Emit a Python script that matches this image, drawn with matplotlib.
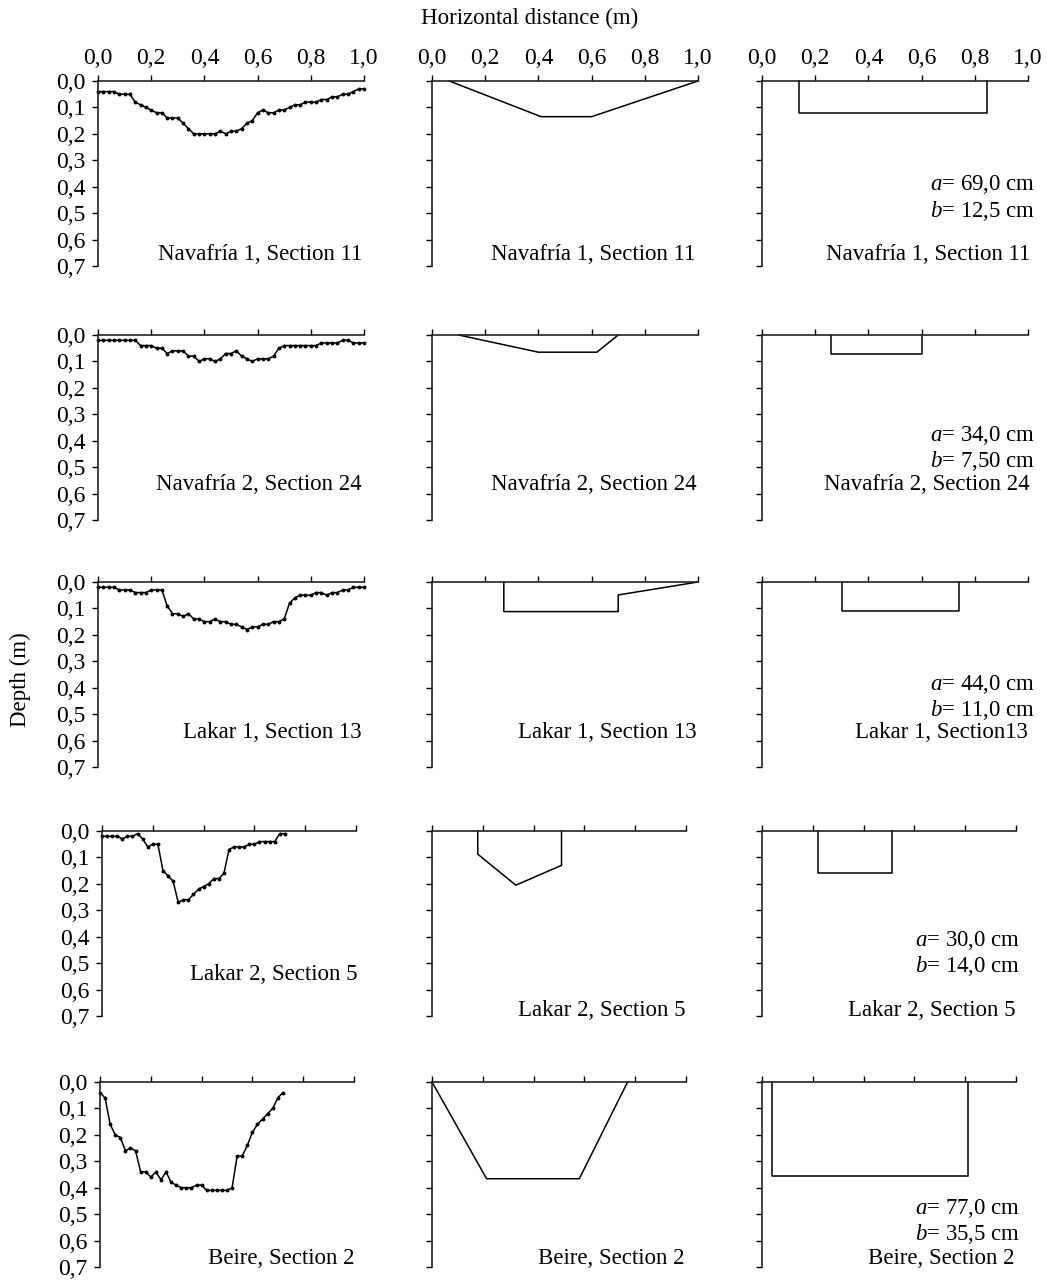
import matplotlib
matplotlib.use("Agg")
import matplotlib.pyplot as plt
import numpy as np

plt.rcParams['font.family'] = ['Liberation Serif', 'DejaVu Serif']
plt.rcParams['mathtext.fontset'] = 'custom'
plt.rcParams['mathtext.rm'] = 'Liberation Serif'
plt.rcParams['mathtext.it'] = 'Liberation Serif:italic'

# ---------------- data ----------------
sites = ["Navafría 1, Section 11", "Navafría 2, Section 24", "Lakar 1, Section 13",
         "Lakar 2, Section 5", "Beire, Section 2"]
site_labels_col3 = ["Navafría 1, Section 11", "Navafría 2, Section 24", "Lakar 1, Section13",
                    "Lakar 2, Section 5", "Beire, Section 2"]

# measured profiles (x every 0.02 m)
nav1_x = [round(0.02 * i, 2) for i in range(51)]
nav1_d = [0.04, 0.04, 0.04, 0.04, 0.05, 0.05, 0.05, 0.08, 0.09, 0.10, 0.11, 0.12, 0.12,
          0.14, 0.14, 0.14, 0.16, 0.18, 0.20, 0.20, 0.20, 0.20, 0.20, 0.19, 0.20, 0.19,
          0.19, 0.18, 0.16, 0.15, 0.12, 0.11, 0.12, 0.12, 0.11, 0.11, 0.10, 0.09, 0.09,
          0.08, 0.08, 0.08, 0.07, 0.07, 0.06, 0.06, 0.05, 0.05, 0.04, 0.03, 0.03]

nav2_x = [round(0.02 * i, 2) for i in range(51)]
nav2_d = [0.02, 0.02, 0.02, 0.02, 0.02, 0.02, 0.02, 0.02, 0.04, 0.04, 0.04, 0.05, 0.05,
          0.07, 0.06, 0.06, 0.06, 0.08, 0.08, 0.10, 0.09, 0.09, 0.10, 0.09, 0.07, 0.07,
          0.06, 0.08, 0.09, 0.10, 0.09, 0.09, 0.09, 0.08, 0.05, 0.04, 0.04, 0.04, 0.04,
          0.04, 0.04, 0.04, 0.03, 0.03, 0.03, 0.03, 0.02, 0.02, 0.03, 0.03, 0.03]

lak1_x = [round(0.02 * i, 2) for i in range(51)]
lak1_d = [0.02, 0.02, 0.02, 0.02, 0.03, 0.03, 0.03, 0.04, 0.04, 0.04, 0.03, 0.03, 0.03,
          0.09, 0.12, 0.12, 0.13, 0.12, 0.14, 0.14, 0.15, 0.15, 0.14, 0.15, 0.15, 0.16,
          0.16, 0.17, 0.18, 0.17, 0.17, 0.16, 0.16, 0.15, 0.15, 0.14, 0.08, 0.06, 0.05,
          0.05, 0.05, 0.04, 0.04, 0.05, 0.04, 0.04, 0.03, 0.03, 0.02, 0.02, 0.02]

lak2_x = [round(0.02 * i, 2) for i in range(37)]
lak2_d = [0.02, 0.02, 0.02, 0.02, 0.03, 0.02, 0.02, 0.01, 0.03, 0.06, 0.05, 0.05, 0.15,
          0.17, 0.19, 0.27, 0.26, 0.26, 0.24, 0.22, 0.21, 0.20, 0.18, 0.18, 0.16, 0.07,
          0.06, 0.06, 0.06, 0.05, 0.05, 0.04, 0.04, 0.04, 0.04, 0.01, 0.01]

beire_x = [round(0.02 * i, 2) for i in range(37)]
beire_d = [0.04, 0.06, 0.16, 0.20, 0.21, 0.26, 0.25, 0.26, 0.34, 0.34, 0.36, 0.34, 0.37,
           0.34, 0.38, 0.39, 0.40, 0.40, 0.40, 0.39, 0.39, 0.41, 0.41, 0.41, 0.41, 0.41,
           0.40, 0.28, 0.28, 0.24, 0.19, 0.16, 0.14, 0.12, 0.10, 0.06, 0.04]

profile_x = [nav1_x, nav2_x, lak1_x, lak2_x, beire_x]
profile_d = [nav1_d, nav2_d, lak1_d, lak2_d, beire_d]

# simplified polygon sections
poly_x = [[0.065, 0.41, 0.60, 1.00],
          [0.10, 0.40, 0.62, 0.70],
          [0.27, 0.27, 0.70, 0.70, 1.00],
          [0.18, 0.18, 0.33, 0.51, 0.51],
          [0.00, 0.215, 0.58, 0.77]]
poly_d = [[0.0, 0.135, 0.135, 0.0],
          [0.0, 0.065, 0.065, 0.0],
          [0.0, 0.112, 0.112, 0.049, 0.0],
          [0.0, 0.0875, 0.205, 0.13, 0.0],
          [0.0, 0.366, 0.366, 0.0]]

# equivalent rectangular sections
rect_x0 = [0.14, 0.26, 0.30, 0.22, 0.04]
rect_x1 = [0.845, 0.60, 0.74, 0.51, 0.81]
rect_d = [0.12, 0.07, 0.11, 0.16, 0.355]
rect_a = ["69,0", "34,0", "44,0", "30,0", "77,0"]
rect_b = ["12,5", "7,50", "11,0", "14,0", "35,5"]

xticks = [0.0, 0.2, 0.4, 0.6, 0.8, 1.0]
yticks = [0.0, 0.1, 0.2, 0.3, 0.4, 0.5, 0.6, 0.7]

# ---------------- layout (pixels) ----------------
W, H = 1047, 1284
fig = plt.figure(figsize=(W / 100, H / 100), dpi=100)

row_top = [81, 335, 582, 831, 1082]
row_h = 185
col_left = [[98, 432, 762], [98, 432, 762], [98, 432, 762], [102, 432, 762], [100, 432, 762]]
col_w = [266, 266, 266, 254, 254]

label_y = [[255, 255, 255], [485, 485, 485], [733, 733, 733], [975, 1010, 1010], [1259, 1259, 1259]]
label_r = [[362, 695, 1030], [362, 697, 1030], [362, 697, 1028], [357, 685, 1015], [355, 685, 1015]]
ann_y = [(185, 211), (436, 461), (685, 710), (940, 966), (1209, 1234)]
ann_r = [1035, 1035, 1035, 1020, 1020]

FS = 16.5
TFS = 17


def fx(px):
    return px / W


def fy(py):
    return 1 - py / H


def fmt(v):
    return f"{v:.1f}".replace(".", ",")


for r in range(5):
    for c in range(3):
        l = col_left[r][c]
        ax = fig.add_axes([fx(l), fy(row_top[r] + row_h), col_w[r] / W, row_h / H])
        ax.set_xlim(0, 1.0)
        ax.set_ylim(0.7, 0.0)
        for s in ['right', 'bottom']:
            ax.spines[s].set_visible(False)
        for s in ['left', 'top']:
            ax.spines[s].set_linewidth(1.2)
            ax.spines[s].set_color('#222222')
        ax.xaxis.set_ticks_position('top')
        ax.set_xticks(xticks)
        ax.set_yticks(yticks)
        ax.tick_params(axis='both', direction='out', length=4, width=1.0,
                       labelsize=TFS, colors='black')
        ax.tick_params(axis='x', pad=5)
        ax.tick_params(axis='y', pad=5)
        if r == 0:
            ax.set_xticklabels([fmt(v) for v in xticks])
        else:
            ax.set_xticklabels([])
        if c == 0:
            ax.set_yticklabels([fmt(v) for v in yticks])
        else:
            ax.set_yticklabels([])

        if c == 0:
            ax.plot(profile_x[r], profile_d[r], color='black', lw=1.1, marker='o',
                    markersize=1.8, clip_on=False)
            txt = sites[r]
        elif c == 1:
            ax.plot(poly_x[r], poly_d[r], color='black', lw=1.1, clip_on=False)
            txt = sites[r]
        else:
            xs = [rect_x0[r], rect_x0[r], rect_x1[r], rect_x1[r]]
            ds = [0.0, rect_d[r], rect_d[r], 0.0]
            ax.plot(xs, ds, color='black', lw=1.1, clip_on=False)
            txt = site_labels_col3[r]
        fig.text(fx(label_r[r][c]), fy(label_y[r][c]), txt, ha='right', va='center',
                 fontsize=FS)

    fig.text(fx(ann_r[r]), fy(ann_y[r][0]), r"$\it{a}$= " + rect_a[r] + " cm",
             ha='right', va='center', fontsize=FS)
    fig.text(fx(ann_r[r]), fy(ann_y[r][1]), r"$\it{b}$= " + rect_b[r] + " cm",
             ha='right', va='center', fontsize=FS)

fig.text(fx(530), fy(18), "Horizontal distance (m)", ha='center', va='center', fontsize=FS)
fig.text(fx(20), fy(680), "Depth (m)", ha='center', va='center', rotation=90, fontsize=FS)

fig.savefig("out.png", dpi=100, facecolor='white')
